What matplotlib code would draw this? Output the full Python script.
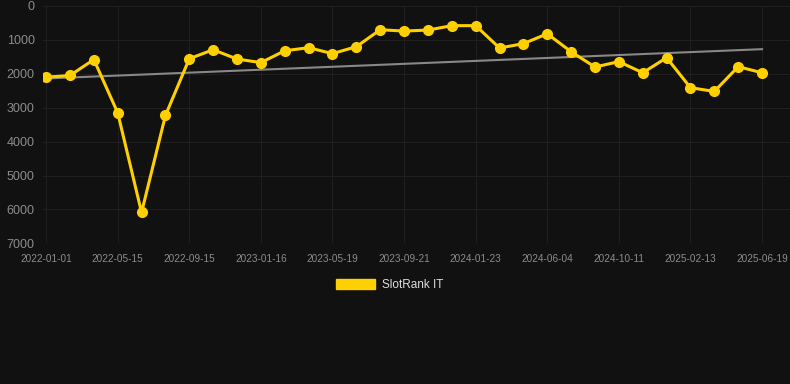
import numpy as np
import matplotlib
matplotlib.use("Agg")
import matplotlib.pyplot as plt
from matplotlib.patches import Patch

dates = ["2022-01-01", "2022-05-15", "2022-09-15", "2023-01-16", "2023-05-19",
         "2023-09-21", "2024-01-23", "2024-06-04", "2024-10-11", "2025-02-13", "2025-06-19"]
ranks = [2100, 2050, 1580, 3150, 6090, 3230, 1555, 1290, 1565, 1670, 1320,
         1230, 1405, 1200, 700, 740, 710, 580, 580, 1240, 1110, 820,
         1350, 1800, 1640, 1970, 1525, 2410, 2520, 1790, 1970]
series_name = "SlotRank IT"

plt.rcParams['font.family'] = ['Liberation Sans', 'DejaVu Sans']

bg = "#111111"
gold = "#FFD000"

fig = plt.figure(figsize=(7.9, 3.84), dpi=100, facecolor=bg)
ax = fig.add_axes([43/790, 1 - 243.3/384, 1 - 43/790, (243.3 - 6)/384])
ax.set_facecolor(bg)

x = np.arange(len(ranks))
coef = np.polyfit(x, ranks, 1)
ax.plot(x, np.polyval(coef, x), color="#888888", lw=1.5, zorder=2)
ax.plot(x, ranks, color=gold, lw=2.2, marker="o", markersize=7, zorder=3)

ax.set_ylim(7000, 0)
ax.set_xlim(-0.13, 31.17)
ax.set_yticks(range(0, 7001, 1000))
ax.set_xticks(x[::3])
ax.set_xticklabels(dates)
ax.tick_params(axis="y", colors="#8c8c8c", labelsize=9, length=0, pad=6)
ax.tick_params(axis="x", colors="#8c8c8c", labelsize=7.2, length=0, pad=8)
ax.grid(True, color="#1f1f1f", lw=0.8)
ax.set_axisbelow(True)
for s in ax.spines.values():
    s.set_visible(False)

fig.legend(handles=[Patch(facecolor=gold, edgecolor=gold)], labels=[series_name],
           loc="center", bbox_to_anchor=(390/790, 1 - 285/384), frameon=False,
           fontsize=8.5, labelcolor="#dddddd", handlelength=3.3, handleheight=0.9,
           handletextpad=0.6)

fig.savefig("out.png", dpi=100, facecolor=bg)
